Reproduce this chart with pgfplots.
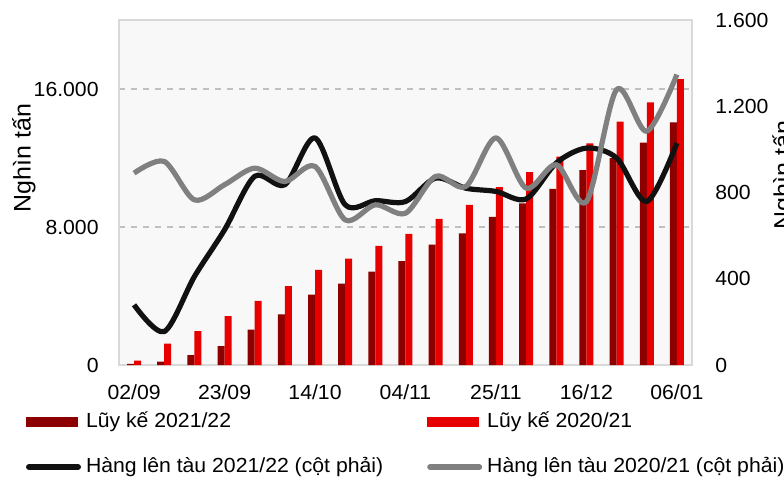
\documentclass[border=0pt]{standalone}
\usepackage{fontspec}
\setmainfont{Liberation Sans}[FakeStretch=1.04]
\usepackage{pgfplots}
\pgfplotsset{compat=1.18}
\definecolor{barDark}{HTML}{8C0000}
\definecolor{barRed}{HTML}{E60000}
\definecolor{lineBlack}{HTML}{111111}
\definecolor{lineGray}{HTML}{808080}
\definecolor{bgGray}{HTML}{F8F8F8}
\definecolor{borderGray}{HTML}{D9D9D9}
\definecolor{gridGray}{HTML}{C0C0C0}
\newcommand{\tickfont}{\fontsize{10.2}{12}\selectfont}
\newcommand{\labfont}{\fontsize{12}{14}\selectfont}
\begin{document}
\begin{tikzpicture}
\begin{axis}[
  at={(59.5pt,-182.5pt)}, anchor=south west,
  width=286.5pt, height=172.5pt, scale only axis,
  xmin=-0.5, xmax=18.5, ymin=0, ymax=20000,
  axis background/.style={fill=bgGray},
  axis line style={draw=borderGray, line width=0.6pt},
  xtick={0,3,...,18},
  xticklabels={02/09,23/09,14/10,04/11,25/11,16/12,06/01},
  ytick={0,8000,16000},
  scaled y ticks=false,
  major tick length=0pt,
  ymajorgrids, grid style={dashed, gridGray, line width=0.7pt},
  ybar=0pt, bar width=3.5pt,
  tick label style={font=\tickfont},
  yticklabel style={inner sep=0pt, anchor=east, xshift=-10pt},
  xticklabel style={inner sep=0pt, anchor=north, yshift=-9.5pt},
  ylabel={Nghìn tấn},
  every axis y label/.style={at={(axis description cs:-0.166,0.60)}, rotate=90, anchor=center, font=\labfont},
  legend columns=2,
  legend style={at={(axis description cs:-0.1623,-0.2304)}, anchor=west,
    draw=none, fill=none, inner sep=0pt, outer sep=0pt, font=\tickfont,
    row sep=13pt,
    nodes={inner sep=0pt, text height=7.5pt, text depth=2pt, anchor=west},
    /tikz/every odd column/.append style={column sep=2.5pt},
    /tikz/every even column/.append style={column sep=22pt}},
  /pgf/number format/1000 sep={.},
  /pgf/number format/assume math mode=true,
]
\addplot[fill=barDark, draw=none,
  legend image code/.code={\fill[barDark] (0pt,-2.5pt) rectangle (26pt,2.5pt);}]
  coordinates {(0,60) (1,190) (2,580) (3,1100) (4,2050) (5,2940) (6,4080) (7,4720) (8,5420) (9,6020) (10,6985) (11,7625) (12,8590) (13,9365) (14,10215) (15,11300) (16,12000) (17,12890) (18,14070)};
\addlegendentry{Lũy kế 2021/22}
\addplot[fill=barRed, draw=none,
  legend image code/.code={\fill[barRed] (0pt,-2.5pt) rectangle (26pt,2.5pt);}]
  coordinates {(0,250) (1,1240) (2,1970) (3,2840) (4,3715) (5,4570) (6,5515) (7,6170) (8,6910) (9,7600) (10,8475) (11,9290) (12,10310) (13,11185) (14,12075) (15,12850) (16,14105) (17,15230) (18,16580)};
\addlegendentry{Lũy kế 2020/21}
\addlegendimage{legend image code/.code={\draw[lineBlack, line width=3pt, line cap=round] (1.5pt,0pt) -- (26pt,0pt);}}
\addlegendentry{Hàng lên tàu 2021/22 (cột phải)}
\addlegendimage{legend image code/.code={\draw[lineGray, line width=3pt, line cap=round] (1.5pt,0pt) -- (26pt,0pt);}}
\addlegendentry{Hàng lên tàu 2020/21 (cột phải)}
\end{axis}
\begin{axis}[
  at={(59.5pt,-182.5pt)}, anchor=south west,
  width=286.5pt, height=172.5pt, scale only axis,
  xmin=-0.5, xmax=18.5, ymin=0, ymax=1600,
  hide x axis,
  axis y line*=right,
  y axis line style={draw=none},
  ytick={0,400,...,1600},
  scaled y ticks=false,
  major tick length=0pt,
  tick label style={font=\tickfont},
  yticklabel style={inner sep=0pt, anchor=west, xshift=11.5pt},
  ylabel={Nghìn tấn},
  every axis y label/.style={at={(axis description cs:1.1606,0.551)}, rotate=90, anchor=center, font=\labfont},
  /pgf/number format/1000 sep={.},
  /pgf/number format/assume math mode=true,
]
\addplot[lineBlack, line width=2.6pt, smooth, line join=round]
  coordinates {(0,279) (1,155) (2,410) (3,627) (4,875) (5,836) (6,1053) (7,743) (8,762) (9,758) (10,867) (11,820) (12,805) (13,770) (14,937) (15,1006) (16,960) (17,758) (18,1029)};
\addplot[lineGray, line width=2.6pt, smooth, line join=round]
  coordinates {(0,890) (1,944) (2,766) (3,836) (4,913) (5,851) (6,921) (7,673) (8,743) (9,704) (10,875) (11,828) (12,1053) (13,820) (14,929) (15,758) (16,1277) (17,1084) (18,1347)};
\end{axis}
\pgfresetboundingbox
\path[use as bounding box] (0pt,0pt) rectangle (392pt,-239pt);
\end{tikzpicture}
\end{document}
